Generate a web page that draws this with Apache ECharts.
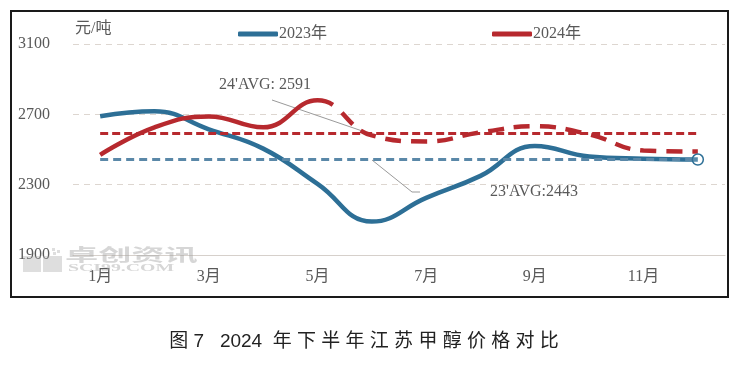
<!DOCTYPE html>
<html><head><meta charset="utf-8">
<script src="https://cdn.jsdelivr.net/npm/echarts@6/dist/echarts.min.js"></script>
<style>html,body{margin:0;padding:0;background:#fff}#c{width:741px;height:365px}</style>
</head><body><div id="c"></div>
<script>
const months = ['1月','2月','3月','4月','5月','6月','7月','8月','9月','10月','11月','12月'];
const yTicks = [1900, 2300, 2700, 3100];
const s2023 = [2689, 2717, 2615, 2505, 2305, 2090, 2225, 2350, 2520, 2460, 2448, 2443];
const s2024 = [2470, 2626, 2688, 2626, 2780, 2580, 2546, 2597, 2632, 2586, 2494, 2488];
const solidUntil = 4; // 2024 drawn solid through 5月, dashed afterwards
const avg2023 = 2443;
const avg2024 = 2591;
const caption = '图 7   2024  年 下 半 年 江 苏 甲 醇 价 格 对 比';

const serif = "'Liberation Serif', 'Noto Sans CJK SC', serif";
const BLUE = '#2d6f96', RED = '#b7292e';
const chart = echarts.init(document.getElementById('c'), null, {renderer: 'canvas'});
const option = {
  animation: false,
  backgroundColor: '#fff',
  grid: {left: 73, right: 16, top: 44, bottom: 110},
  legend: {
    left: 233, top: 21, itemGap: 165, itemWidth: 40, itemHeight: 5,
    icon: 'roundRect',
    itemStyle: {borderWidth: 0, borderType: 'solid'},
    lineStyle: {type: 'solid'},
    textStyle: {fontFamily: serif, fontSize: 16, color: '#595959', padding: [0,0,0,-4]},
    data: [
      {name: '2023年', itemStyle: {color: BLUE, borderWidth: 0, borderType: 'solid'}, lineStyle: {type: 'solid'}},
      {name: '2024年', itemStyle: {color: RED, borderWidth: 0, borderType: 'solid'}, lineStyle: {type: 'solid'}}
    ]
  },
  xAxis: {
    type: 'category', data: months, boundaryGap: true,
    axisLine: {show: true, lineStyle: {color: '#d6d0cb', width: 1}},
    axisTick: {show: false},
    axisLabel: {interval: 1, margin: 14, fontFamily: serif, fontSize: 16, color: '#595959'}
  },
  yAxis: {
    type: 'value', min: yTicks[0], max: yTicks[yTicks.length-1], interval: 400,
    axisLine: {show: false}, axisTick: {show: false},
    axisLabel: {margin: 23, fontFamily: serif, fontSize: 16, color: '#595959', formatter: v => String(v)},
    splitLine: {show: true, lineStyle: {color: '#ddd6d0', type: [6, 5], width: 1}}
  },
  series: [
    {
      name: '2023年', type: 'line', data: s2023, smooth: 0.45, showSymbol: false,
      lineStyle: {color: BLUE, width: 4.5}, itemStyle: {color: BLUE}, z: 3,
      markLine: {
        silent: true, symbol: 'none', label: {show: false},
        lineStyle: {color: '#5a88a8', width: 3, type: [8, 5]},
        data: [[{coord: [0, avg2023]}, {coord: [11, avg2023]}]]
      },
      markPoint: {
        silent: true, symbol: 'circle', symbolSize: 11, label: {show: false},
        itemStyle: {color: 'rgba(255,255,255,0.2)', borderColor: BLUE, borderWidth: 1.5},
        data: [{coord: [11, s2023[11]]}]
      }
    },
    {
      name: '2024年', type: 'line', data: s2024, smooth: 0.45, showSymbol: false,
      lineStyle: {color: RED, width: 4.5}, itemStyle: {color: RED}, z: 4,
      markLine: {
        silent: true, symbol: 'none', label: {show: false},
        lineStyle: {color: RED, width: 3, type: [8, 4]},
        data: [[{coord: [0, avg2024]}, {coord: [11, avg2024]}]]
      }
    }
  ],
  graphic: [
    {type: 'rect', shape: {x: 11, y: 11, width: 717, height: 286}, style: {fill: 'none', stroke: '#1a1a1a', lineWidth: 2}, z: 100},
    {type: 'text', left: 75, top: 21, style: {text: '元/吨', font: "16px 'Liberation Serif', 'Noto Sans CJK SC'", fill: '#595959'}},
    {type: 'text', left: 219, top: 77, style: {text: "24'AVG: 2591", font: "16px 'Liberation Serif'", fill: '#595959'}},
    {type: 'text', left: 490, top: 184, style: {text: "23'AVG:2443", font: "16px 'Liberation Serif'", fill: '#595959'}},
    {type: 'polyline', shape: {points: [[272, 100], [371, 134]]}, style: {stroke: '#9a9a9a', lineWidth: 1, fill: 'none'}, z: 2},
    {type: 'polyline', shape: {points: [[372, 160], [412, 192], [420, 192]]}, style: {stroke: '#9a9a9a', lineWidth: 1, fill: 'none'}, z: 2},
    {type: 'rect', shape: {x: 23, y: 256, width: 18, height: 16}, style: {fill: 'rgba(160,160,160,0.35)'}, z: 1},
    {type: 'rect', shape: {x: 43, y: 256, width: 19, height: 16}, style: {fill: 'rgba(160,160,160,0.35)'}, z: 1},
    {type: 'rect', shape: {x: 52, y: 248, width: 3, height: 3}, style: {fill: 'rgba(160,160,160,0.35)'}, z: 1},
    {type: 'rect', shape: {x: 57, y: 250, width: 3, height: 3}, style: {fill: 'rgba(160,160,160,0.35)'}, z: 1},
    {type: 'rect', shape: {x: 53, y: 252, width: 3, height: 3}, style: {fill: 'rgba(160,160,160,0.35)'}, z: 1},
    {type: 'text', x: 65, y: 246, scaleX: 1.95, style: {text: '卓创资讯', x: 0, y: 0, font: "bold 17px 'Noto Sans CJK SC'", fill: 'rgba(165,165,165,0.45)', verticalAlign: 'top'}, z: 1},
    {type: 'text', x: 68, y: 263, scaleX: 1.8, style: {text: 'SCI99.COM', x: 0, y: 0, font: "bold 11px 'Liberation Serif'", fill: 'rgba(165,165,165,0.45)', verticalAlign: 'top'}, z: 1},
    {type: 'text', x: 364, y: 342, style: {text: caption, font: "19px 'Liberation Sans', 'Noto Sans CJK SC'", fill: '#222', align: 'center', verticalAlign: 'middle'}}
  ]
};
chart.setOption(option);

// Build a dash pattern: solid up to (slightly past) 5月, then long dashes.
const pts = s2024.slice(0, solidUntil + 1).map((v, i) => chart.convertToPixel({gridIndex: 0}, [i, v]));
let len = 0;
for (let i = 1; i < pts.length; i++) {
  len += Math.hypot(pts[i][0] - pts[i-1][0], pts[i][1] - pts[i-1][1]);
}
const dash = [len * 1.02 + 14, 12];
for (let k = 0; k < 40; k++) dash.push(16, 10);
chart.setOption({series: [{}, {lineStyle: {type: dash, cap: 'butt'}}]});
</script></body></html>
